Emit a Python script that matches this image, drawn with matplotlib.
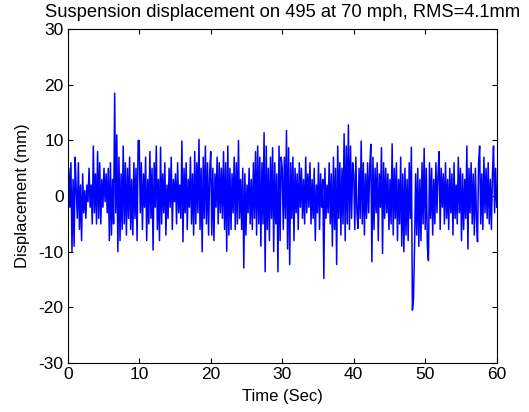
import numpy as np
import matplotlib
matplotlib.use("Agg")
import matplotlib.pyplot as plt

# displacement (mm), ~0.15 s apart, in 10 s blocks
block_0_10 = [-3, 5, -2, 6, -10, 3, -9, 7, 1, -4,
              6, -6, 2, -8, 4, -3, 1, -4, 2, -1,
              5, -2, 2, -5, 9, -3, 4, -5, 8, -4,
              6, -5, 3, -2, 5, -1, 4, -3, 5, -8,
              6, -7, 3, -5, 18.5, -3, 11, -10, 7, -8,
              4, -6, 9, -5, 6, -7, 5, -4, 7, -6,
              3, -7, 6, -4, 5, -8, 10]
block_10_20 = [10, -3, 6, -6, 4, -2, 7, -8, 3, -5,
               8, -4, 5, -9.7, 6, -2, 9, -6, 3, -8,
               8.8, -5, 4, -3, 6, -7, 2, -4, 5, -2,
               7, -6, 3, -1, 4, -5, 6, -3, 2, -4,
               9.9, -8.2, 5, -3, 6, -6, 3, -2, 7, -5,
               4, -7, 8, -5, 6, -3, 10.2, -6, 5, -10,
               7, -4, 9, -5, 6, -7, 4]
block_20_30 = [8, -7, 5, -8, 4, -2, 7, -5, 6, -3,
               5, -4, 8, -6, 6, -9.9, 9, -7, 5, -6,
               4, -3, 7, -6, 6, -5, 10, -4, 3, -6,
               5, -12.9, 4, -7, 2, -3, 5, -5, 3, -6,
               6, -4, 8, -7, 9, -5, 7, -9, 6, -5,
               11.4, -13.6, 9, -6, 5, -8, 7, -4, 8.7, -10,
               6, -5, 4, -13.6, 9, -8, 7]
block_30_40 = [5, -6, 7, -4, 11.8, -9.5, 8.7, -12.3, 6, -4,
               7, -8, 5, -3, 4, -6, 6, -2, 5, -4,
               3, -5, 7, -3, 4, -2, 6, -5, 3, -4,
               5, -8, 2, -3, 6, -6, 4, -2, 3, -14.8,
               5, -4, 2, -3, 6, -5, 4, -9, 7, -6,
               5, -12.3, 9, -4, 6, -7, 5, -5, 11.2, -8,
               9, -5, 12.8, -6, 9, -4, 6]
block_40_50 = [4, -6, 7, -3, -5.8, 5, -4, 9.9, -5, 6,
               -7, 4, -4, 6, -3, 5, 9.3, -11.8, 7, -6,
               5, -3, 6, -8, 4, -2, 8.7, -10.3, 6, -4,
               5, -3, 4, -6, 3, -5, 9.4, -7, 5, -4,
               6, -8, 3, -5, 7, -9, 4, -10, 5, -7,
               3, -8, 6, -4, 8.8, -20.5, -18.4, -9, 4, -7,
               5, -9, 3, -8, 6, -5, 8.6]
block_50_60 = [-6, 5, -9, -11.6, 6, -4, 5, -7, 3, -5,
               6, -3, 4, 8, -6, 5, -2, 4, -5, 6,
               -4, 3, -6, 5, -3, 4, -7, 6, -4, 2,
               -5, 7, -3, 5, -8, 4, -6, 3, -4, 9,
               -9.5, 5, -3, 6, -5, 4, -7, 5, -4, -8.2,
               6, 9, -5, 4, -6, 7, -3, 5, -4, 6,
               -5, 3, -6, 4, 9, -3, 5, -2]

disp_mm = np.array(block_0_10 + block_10_20 + block_20_30
                   + block_30_40 + block_40_50 + block_50_60)
time_s = np.linspace(0, 60, len(disp_mm))

plt.rcParams['font.family'] = ['Liberation Sans', 'DejaVu Sans']
plt.rcParams['font.size'] = 12
plt.rcParams['axes.unicode_minus'] = False

fig = plt.figure(figsize=(5.29, 4.12), dpi=100)
ax = fig.add_axes([0.128, 0.119, 0.811, 0.81])
ax.plot(time_s, disp_mm, color='#0000ff', linewidth=1.1)

ax.set_xlim(0, 60)
ax.set_ylim(-30, 30)
ax.set_xticks(range(0, 61, 10))
ax.set_yticks(range(-30, 31, 10))
ax.tick_params(direction='in', length=3.5, width=0.8, top=True, right=True,
               pad=3, labelsize=12.5)
for s in ax.spines.values():
    s.set_linewidth(0.8)

ax.set_title('Suspension displacement on 495 at 70 mph, RMS=4.1mm',
             pad=8.5, fontsize=13.2)
ax.set_xlabel('Time (Sec)', labelpad=5)
ax.set_ylabel('Displacement (mm)', labelpad=6)

fig.savefig('out.png', dpi=100, facecolor='white')
